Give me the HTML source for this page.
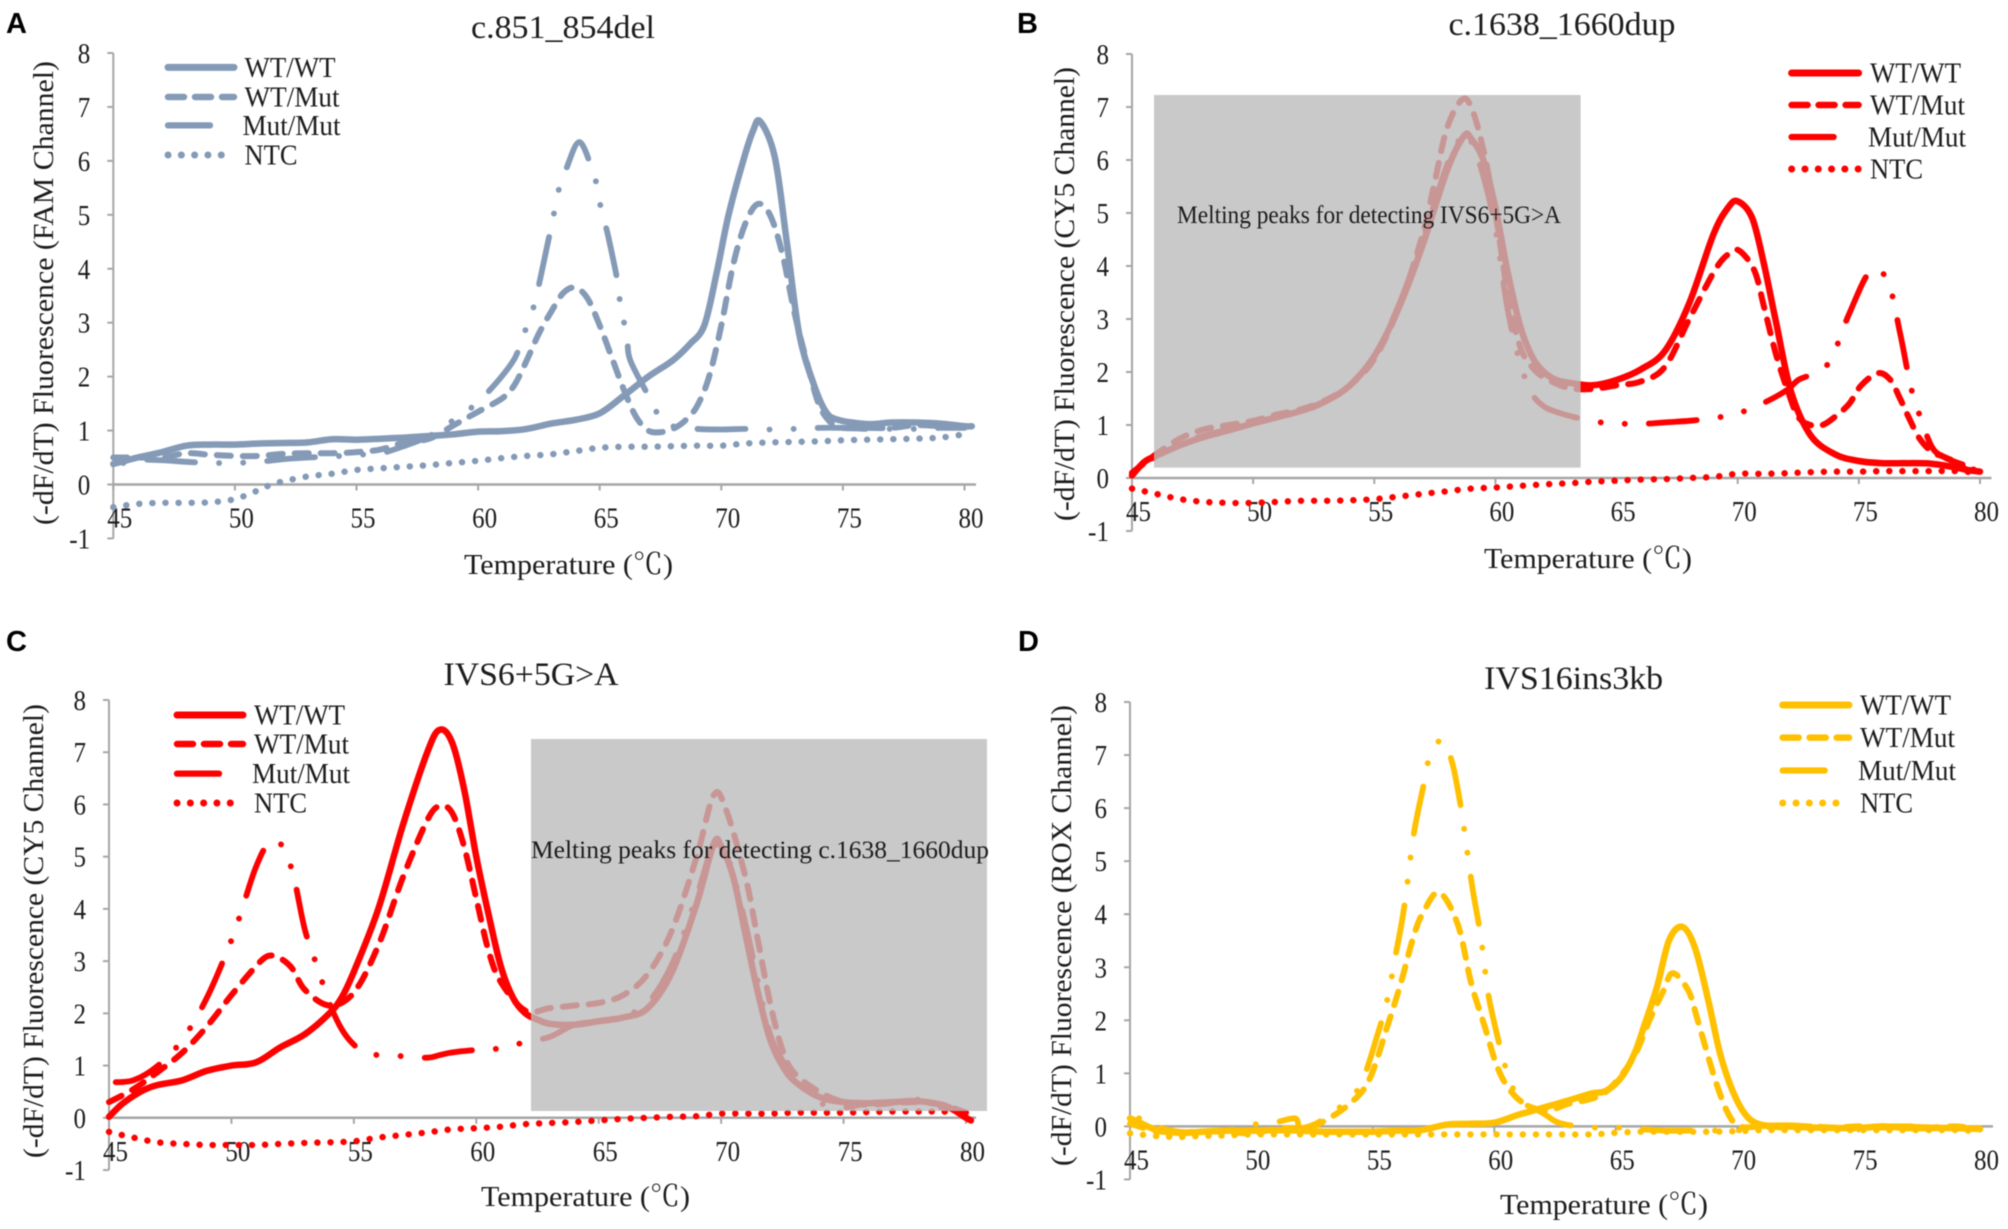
<!DOCTYPE html>
<html lang="en">
<head>
<meta charset="utf-8">
<title>Melting curve panels</title>
<style>
html,body{margin:0;padding:0;background:#fff;width:2008px;height:1229px;overflow:hidden}
svg{display:block;filter:blur(.5px)}
text{font-family:"Liberation Serif","Noto Serif CJK SC",serif;fill:#1c1c1c}
.letter{font-family:"Liberation Sans",sans-serif;font-weight:bold;fill:#000}
</style>
</head>
<body>
<svg id="figure" xmlns="http://www.w3.org/2000/svg" width="2008" height="1229" viewBox="0 0 2008 1229"></svg>
<script>
const xTicks=[45,50,55,60,65,70,75,80];
const yTicks=[-1,0,1,2,3,4,5,6,7,8];
const legendLabels=["WT/WT","WT/Mut","Mut/Mut","NTC"];

const a_wtwt_t=[45,46,47,48,49,50,51,52,53,54,55,56,57,58,59,60,61,62,63,64,65,66,67,68,68.7,69.3,69.8,70.3,70.9,71.3,71.6,72.2,72.7,73.2,73.8,74.3,74.8,76,77,78,79,80,80.3];
const a_wtwt_v=[.38,.5,.6,.72,.74,.74,.76,.77,.78,.84,.83,.85,.87,.9,.93,.98,.99,1.03,1.13,1.2,1.32,1.65,2,2.3,2.6,2.95,3.9,5,6,6.55,6.73,6.07,4.47,2.8,1.86,1.35,1.2,1.12,1.15,1.15,1.13,1.08,1.08];
const a_wtmut_t=[45,46,47,48,49,50,51,52,53,54,55,56,57,58,59,60,61,61.5,62,62.5,63,63.5,64,64.5,65,65.5,66,66.5,67,67.5,68,68.5,69,69.5,70,70.5,71,71.5,72,72.5,73,73.5,74,74.5,75,76,77,78,79,80];
const a_wtmut_v=[.5,.5,.5,.58,.55,.53,.53,.57,.58,.58,.6,.65,.78,.85,1.1,1.35,1.6,1.85,2.3,2.8,3.2,3.55,3.65,3.45,2.95,2.35,1.75,1.25,1,.97,1.03,1.18,1.45,2,2.95,4.1,4.85,5.2,5,4.3,3.2,2.3,1.5,1.15,1.05,1.05,1.05,1.1,1.08,1.05];
const a_mut_t=[45,46,47,48,49,50,51,52,53,54,55,56,57,58,59,60.1,61.4,61.8,62.2,62.45,62.9,63.1,63.3,63.63,64.16,64.68,64.87,65.08,65.34,65.74,65.87,66.13,66.26,67.18,67.5,68,69,70,71,72,73,74,75,76,77,78,79,80];
const a_mut_v=[.35,.45,.45,.42,.4,.4,.42,.47,.5,.52,.55,.58,.72,.9,1.2,1.57,2.26,2.7,3.17,3.6,4.55,4.98,5.44,5.86,6.35,5.86,5.57,5.06,4.62,3.75,3.24,2.77,2.3,1.5,1.2,1.08,1.03,1.02,1.03,1.02,1.03,1.05,1.05,1.03,1.03,1.03,1.05,1.05];
const a_ntc_t=[45,46,47,48,49,50,51,51.5,52,53,54,55,56,57,58,59,60,61,62,63,64,65,66,67,68,69,70,71,72,73,74,75,76,77,78,79,80];
const a_ntc_v=[-.42,-.36,-.34,-.34,-.33,-.27,-.1,0,.06,.15,.2,.27,.3,.33,.36,.4,.44,.49,.53,.56,.62,.68,.7,.7,.71,.72,.72,.76,.78,.79,.8,.82,.83,.84,.85,.87,.93];

const b_wtwt_t=[45,45.5,46,47,48,49,50,51,52,53,54,55,56,57,58,58.7,59,59.5,60,60.5,61,61.5,62,62.5,63,64,65,66,67,68,69,69.6,70,70.6,71.1,71.6,72.2,73,74,75,76,77,78,79,79.5,80];
const b_wtwt_v=[.05,.3,.42,.62,.78,.9,1.03,1.15,1.27,1.45,1.75,2.3,3.2,4.4,5.8,6.45,6.4,6,5.1,3.9,2.9,2.3,2,1.85,1.8,1.75,1.85,2.05,2.4,3.3,4.6,5.1,5.22,4.9,4,2.9,1.63,.81,.45,.32,.28,.28,.27,.2,.15,.12];
const b_wtmut_t=[45,46,47,48,49,50,51,52,53,54,55,56,57,57.5,58,58.6,59,59.5,60,60.5,61,61.5,62,63,64,65,66,67,68,69.1,69.7,70.1,70.7,71.1,71.6,72.1,72.5,73,73.5,74,74.6,75.1,75.8,76.3,76.7,77,77.5,78,78.5,79,79.5,80];
const b_wtmut_v=[.1,.45,.75,.92,1,1.08,1.2,1.3,1.47,1.75,2.25,3.2,4.6,5.6,6.6,7.13,7,6.2,5,3.5,2.5,2.1,1.9,1.7,1.68,1.75,1.82,2.1,3,3.95,4.25,4.28,3.9,3.2,2.3,1.6,1.15,1,1,1.15,1.4,1.75,1.98,1.85,1.5,1.2,.75,.5,.4,.3,.15,.2];
const b_mut_t=[45,46,47,48,49,50,51,52,53,54,55,56,57,58,58.7,59,59.5,60,60.5,61,61.5,62,62.5,63,64,65,66,67,68,69,70,71,72,72.5,73,73.8,74.6,75.5,76.2,76.7,77.1,77.4,78,78.5,79,80];
const b_mut_v=[.1,.4,.65,.8,.92,1.02,1.15,1.25,1.45,1.75,2.3,3.25,4.5,5.9,6.5,6.35,5.7,4.7,3.2,2.2,1.6,1.35,1.25,1.18,1.07,1.03,1.02,1.05,1.08,1.13,1.22,1.4,1.65,1.85,1.95,2.2,3.1,3.92,3.7,2.74,1.81,1.33,.6,.4,.3,.15];
const b_ntc_t=[45,46,47,48,49,50,51,52,53,54,55,56,57,58,59,60,61,62,63,64,65,66,67,68,69,70,71,72,73,74,75,76,77,78,79,80];
const b_ntc_v=[-.2,-.3,-.4,-.45,-.47,-.47,-.45,-.43,-.43,-.42,-.4,-.35,-.3,-.25,-.2,-.18,-.15,-.12,-.1,-.07,-.05,-.03,-.02,0,.02,.08,.08,.09,.11,.12,.12,.13,.13,.13,.13,.1];

const c_wtwt_t=[45,45.5,46,46.5,47,48,49,50,51,52,53,54,54.5,55,56,57,58,58.5,59,59.5,60,60.5,61,61.5,62,62.5,63,64,65,66,67,68,69,69.7,70,70.5,71,71.5,72,72.5,73,74,75,76,77,78,79,79.5,80,80.2];
const c_wtwt_v=[.02,.25,.42,.55,.63,.72,.9,1,1.06,1.35,1.6,2,2.3,2.8,4,5.6,7,7.43,7.2,6.3,5,3.9,2.9,2.3,2,1.88,1.8,1.78,1.85,1.92,2.1,2.8,4.1,5.25,5.2,4.6,3.5,2.4,1.5,1,.7,.4,.3,.28,.3,.32,.25,.15,0,-.05];
const c_wtmut_t=[45,46,47,48,49,50,51,51.5,52,52.5,53,54,55,56,57,58,58.5,59,59.5,60,60.5,61,62,63,64,65,66,67,68,69,69.7,70.2,71,71.5,72,72.5,73,74,75,76,77,78,79,80];
const c_wtmut_v=[.3,.55,.88,1.25,1.75,2.35,2.9,3.1,3.05,2.85,2.45,2.15,2.4,3.3,4.6,5.7,5.97,5.85,5.2,4.2,3.2,2.6,2.05,2.1,2.15,2.2,2.35,2.75,3.6,5,6.18,5.9,4.6,3.4,2.2,1.3,.85,.5,.3,.25,.28,.3,.25,.1];
const c_mut_t=[45,46,47,48,49,50,50.5,51,51.5,52,52.5,53,53.5,54,54.5,55,55.5,56,57,58,58.5,59,60,61,62,63,64,65,66,67,68,69,69.7,70.3,71,71.5,72,72.5,73,74,75,76,77,78,79,80];
const c_mut_v=[.68,.72,1,1.5,2.3,3.4,4.1,4.8,5.25,5.25,4.7,3.6,2.9,2.2,1.7,1.4,1.25,1.2,1.18,1.15,1.2,1.25,1.3,1.33,1.45,1.55,1.78,1.85,1.95,2.2,2.95,4.25,5.2,4.95,3.7,2.6,1.6,1.1,.75,.3,.2,.28,.3,.35,.2,.1];
const c_ntc_t=[45,46,47,48,49,50,51,52,53,54,55,56,57,58,59,60,61,62,63,64,65,66,67,68,69,70,71,72,73,74,75,76,77,78,79,80];
const c_ntc_v=[-.27,-.38,-.47,-.5,-.52,-.52,-.52,-.5,-.48,-.47,-.45,-.38,-.33,-.28,-.22,-.2,-.17,-.12,-.1,-.08,-.05,-.02,0,.02,.03,.08,.08,.08,.1,.1,.1,.11,.12,.12,.12,.1];

const d_wtwt_t=[45,45.5,46,47,48,49,50,51,52,53,54,55,56,57,58,59,60,61,62,63,64,64.6,65.24,65.77,66.17,66.7,67.2,67.75,68.27,68.8,69.3,69.85,70.4,71,72,73,74,75,76,77,78,79,80];
const d_wtwt_v=[.15,.05,-.05,-.12,-.1,-.08,-.08,-.07,-.08,-.1,-.1,-.1,-.08,-.07,.03,.05,.07,.22,.35,.48,.62,.67,.93,1.37,1.89,2.63,3.51,3.76,3.36,2.4,1.37,.63,.19,.03,0,-.02,-.03,-.03,0,-.03,-.03,-.03,-.05];
const d_wtmut_t=[45,46,47,48,49,50,51,52,52.5,53,54,54.83,55.6,56.15,56.68,57.07,57.73,58.5,59.05,59.6,60.1,60.6,61.3,62.2,63,64,64.6,65.2,65.8,66.43,66.96,67.35,68,68.4,69.06,69.6,70.1,71,72,73,74,75,76,77,78,79,80];
const d_wtmut_v=[.05,-.08,-.12,-.1,-.1,-.13,-.05,-.03,0,.1,.41,.86,1.89,2.7,3.59,4.03,4.41,3.8,2.7,1.89,1.15,.71,.41,.3,.42,.52,.65,.95,1.35,2.04,2.55,2.89,2.55,1.96,.93,.27,0,0,-.02,0,-.02,0,-.02,0,-.02,0,-.05];
const d_mut_t=[45,45.5,46,47,48,49,50,51,51.8,52,52.5,53,54,54.57,55.2,55.6,55.9,56.28,56.68,57.07,57.28,57.8,58.26,58.65,58.8,59.1,59.44,59.7,59.9,60.37,60.7,61,62,62.5,63,64,65,66,67,68,69,70,71,72,73,74,75,76,77,78,79,80];
const d_mut_v=[.25,.12,0,-.1,-.1,-.08,.03,.08,.15,-.02,.02,.15,.5,.86,1.74,2.4,3.14,4.1,5.5,6.39,6.87,7.28,6.87,5.95,5.47,4.5,3.59,2.66,2.15,1.26,.82,.5,.25,.1,.03,-.02,-.02,-.05,-.08,-.08,-.08,-.08,0,.02,0,-.02,-.02,0,0,-.02,0,-.03];
const d_ntc_t=[45,46,47,48,49,50,52,54,56,58,60,62,64,65,66,67,68,69,70,71,72,73,74,75,76,77,78,79,80];
const d_ntc_v=[-.13,-.18,-.2,-.18,-.17,-.15,-.15,-.15,-.15,-.15,-.15,-.15,-.15,-.12,-.1,-.1,-.1,-.1,-.09,-.07,-.07,-.07,-.07,-.07,-.07,-.07,-.07,-.07,-.09];

const NS="http://www.w3.org/2000/svg";
const root=document.getElementById("figure");
function mk(tag,attrs,parent,txt){
  const n=document.createElementNS(NS,tag);
  for(const k in attrs)n.setAttribute(k,attrs[k]);
  if(txt!==undefined)n.textContent=txt;
  parent.appendChild(n);
  return n;
}
function spline(p){
  let d="M"+p[0][0].toFixed(1)+" "+p[0][1].toFixed(1);
  for(let i=0;i<p.length-1;i++){
    const a=p[Math.max(i-1,0)],b=p[i],c=p[i+1],e=p[Math.min(i+2,p.length-1)];
    const c1x=b[0]+(c[0]-a[0])/6,c1y=b[1]+(c[1]-a[1])/6,c2x=c[0]-(e[0]-b[0])/6,c2y=c[1]-(e[1]-b[1])/6;
    d+="C"+c1x.toFixed(1)+" "+c1y.toFixed(1)+" "+c2x.toFixed(1)+" "+c2y.toFixed(1)+" "+c[0].toFixed(1)+" "+c[1].toFixed(1);
  }
  return d;
}
function lengthAtX(path,x){
  let lo=0,hi=path.getTotalLength();
  for(let i=0;i<30;i++){
    const m=(lo+hi)/2;
    if(path.getPointAtLength(m).x<x)lo=m;else hi=m;
  }
  return lo;
}
const styles=[
  {dash:"",cap:"round",w:6.5,period:0},
  {dash:"14 12",cap:"round",w:6,period:26},
  {dash:"48 24 0.1 24 0.1 24",cap:"round",w:5.8,period:120},
  {dash:"0.1 13",cap:"round",w:6.4,period:13.1}
];
const legendWidths=[91,95,98,53];
function drawPanel(cfg){
  const g=mk("g",{},root);
  
  
  const sx=t=>cfg.x45+(t-45)*(cfg.x80-cfg.x45)/35;
  const sy=v=>cfg.y0-v*(cfg.y0-cfg.y8)/8;

  const letter=mk("text",{x:cfg.letter[1],y:cfg.letter[2],"font-size":29,class:"letter"},g,cfg.letter[0]);
  
  
  const title=mk("text",{x:cfg.title[1],y:cfg.title[2],"font-size":33,"text-anchor":"middle",textLength:cfg.title[3],lengthAdjust:"spacingAndGlyphs"},g,cfg.title[0]);
  
  

  const yAxis=mk("line",{x1:sx(45),x2:sx(45),y1:sy(8),y2:sy(-1),stroke:"#a6a6a6","stroke-width":2},g);
  
  
  const xAxis=mk("line",{x1:sx(45),x2:cfg.xEnd,y1:sy(0),y2:sy(0),stroke:"#a6a6a6","stroke-width":2.5},g);
  
  
  yTicks.forEach(v=>{
    const tk=mk("line",{x1:sx(45)-6,x2:sx(45),y1:sy(v),y2:sy(v),stroke:"#a6a6a6","stroke-width":2},g);
    
    
    const s=String(v);
    const lb=mk("text",{x:sx(45)-23-(s.length===1?12.5:21),y:sy(v)+10,"font-size":29,textLength:s.length===1?12.5:21,lengthAdjust:"spacingAndGlyphs"},g,s);
    
    
  });
  xTicks.forEach(t=>{
    const tk=mk("line",{x1:sx(t),x2:sx(t),y1:sy(0),y2:sy(0)+6,stroke:"#a6a6a6","stroke-width":2},g);
    
    
    const lb=mk("text",{x:sx(t)+6.5-12.5,y:sy(0)+43,"font-size":29,textLength:25,lengthAdjust:"spacingAndGlyphs"},g,String(t));
    
    
  });

  [3,2,1,0].forEach(i=>{
    const s=cfg.series[i],st=styles[i];
    const pts=s.t.map((t,k)=>[sx(t),sy(s.v[k])]);
    const p=mk("path",{d:spline(pts),fill:"none",stroke:cfg.color,"stroke-width":st.w,"stroke-linecap":st.cap,"stroke-linejoin":"round"},g);
    if(st.dash){
      p.setAttribute("stroke-dasharray",st.dash);
      if(s.anchor!==undefined){
        const L=lengthAtX(p,sx(s.anchor));
        p.setAttribute("stroke-dashoffset",(st.period-(L%st.period)).toFixed(2));
      }
    }
    
    
  });

  if(cfg.box){
    const r=mk("rect",{x:cfg.box[0],y:cfg.box[1],width:cfg.box[2]-cfg.box[0],height:cfg.box[3]-cfg.box[1],fill:"rgb(188,188,188)","fill-opacity":.8},g);
    
    
    const n=mk("text",{x:cfg.note[1],y:cfg.note[2],"font-size":25,textLength:cfg.note[3],lengthAdjust:"spacingAndGlyphs"},g,cfg.note[0]);
    
    
  }

  legendLabels.forEach((lab,i)=>{
    const st=styles[i],ly=cfg.legend.y[i];
    const x2=i===2?cfg.legend.x1+48:cfg.legend.x2;
    const ln=mk("line",{x1:cfg.legend.x1+3,x2:x2-3,y1:ly,y2:ly,stroke:cfg.color,"stroke-width":st.w+.5,"stroke-linecap":st.cap},g);
    if(i===1)ln.setAttribute("stroke-dasharray","16 11");
    if(i===3)ln.setAttribute("stroke-dasharray","0.1 13.2");
    
    
    const tx=mk("text",{x:cfg.legend.tx-(i===2?2:0),y:ly+9.5,"font-size":28,textLength:legendWidths[i],lengthAdjust:"spacingAndGlyphs"},g,lab);
    
    
  });

  const xt=mk("text",{x:cfg.xTitle[0],y:cfg.xTitle[2],"font-size":29,textLength:cfg.xTitle[1]-cfg.xTitle[0],lengthAdjust:"spacingAndGlyphs"},g,"Temperature (℃)");
  
  
  const yl=cfg.yTitle[2]-cfg.yTitle[1];
  const yt=mk("text",{transform:"translate("+cfg.yTitle[0]+","+cfg.yTitle[2]+") rotate(-90)",x:0,y:0,"font-size":29,textLength:yl,lengthAdjust:"spacingAndGlyphs"},g,cfg.yTitle[3]);
  
  
}

drawPanel({id:"panel-a",color:"#849ab6",x45:113.3,x80:964.5,xEnd:976,y0:484.5,y8:53,
  letter:["A",6,33],title:["c.851_854del",563,38,184],
  legend:{x1:165,x2:237,tx:244.5,y:[67.4,97,125.4,155]},
  xTitle:[464,673,574],yTitle:[53,61,525,"(-dF/dT) Fluorescence (FAM Channel)"],
  series:[{t:a_wtwt_t,v:a_wtwt_v},{t:a_wtmut_t,v:a_wtmut_v},{t:a_mut_t,v:a_mut_v,anchor:63.63},{t:a_ntc_t,v:a_ntc_v}]});
drawPanel({id:"panel-b",color:"#ff0000",x45:1132,x80:1980,xEnd:1991.5,y0:478,y8:54,
  letter:["B",1017,33],title:["c.1638_1660dup",1562,35,227],
  box:[1154,95,1580.6,467.6],note:["Melting peaks for detecting IVS6+5G>A",1177,223,384],
  legend:{x1:1788.6,x2:1861.6,tx:1870,y:[73,105,137,169]},
  xTitle:[1484,1692,568],yTitle:[1074,67,521,"(-dF/dT) Fluorescence (CY5 Channel)"],
  series:[{t:b_wtwt_t,v:b_wtwt_v},{t:b_wtmut_t,v:b_wtmut_v},{t:b_mut_t,v:b_mut_v,anchor:66.26},{t:b_ntc_t,v:b_ntc_v}]});
drawPanel({id:"panel-c",color:"#ff0000",x45:109,x80:966,xEnd:976,y0:1117.8,y8:700,
  letter:["C",6,651],title:["IVS6+5G>A",531,685,175],
  box:[531,739,987,1111],note:["Melting peaks for detecting c.1638_1660dup",531,858,458],
  legend:{x1:174,x2:246,tx:254,y:[715,744,773.6,803]},
  xTitle:[481,690,1206],yTitle:[43,704,1158,"(-dF/dT) Fluorescence (CY5 Channel)"],
  series:[{t:c_wtwt_t,v:c_wtwt_v},{t:c_wtmut_t,v:c_wtmut_v},{t:c_mut_t,v:c_mut_v,anchor:50.6},{t:c_ntc_t,v:c_ntc_v}]});
drawPanel({id:"panel-d",color:"#ffc000",x45:1130,x80:1980,xEnd:1993,y0:1126.4,y8:702,
  letter:["D",1018,651],title:["IVS16ins3kb",1573.6,689,179],
  legend:{x1:1779.7,x2:1852,tx:1860,y:[705,737.6,770.5,803]},
  xTitle:[1500,1708,1214],yTitle:[1071,705,1166,"(-dF/dT) Fluorescence (ROX Channel)"],
  series:[{t:d_wtwt_t,v:d_wtwt_v},{t:d_wtmut_t,v:d_wtmut_v},{t:d_mut_t,v:d_mut_v,anchor:56.68},{t:d_ntc_t,v:d_ntc_v}]});
</script>
</body>
</html>
